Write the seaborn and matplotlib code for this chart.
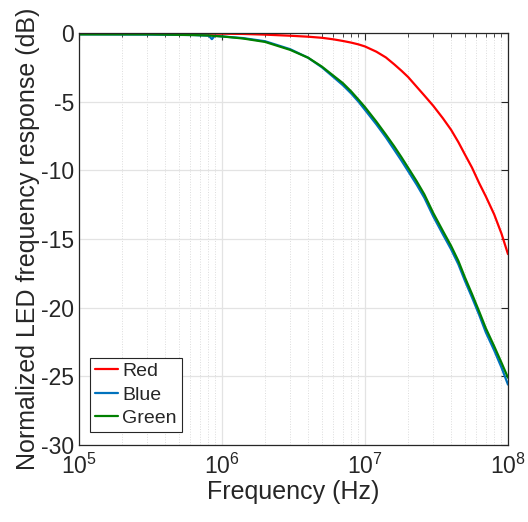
import numpy as np
import pandas as pd
import seaborn as sns
import matplotlib
matplotlib.use("Agg")
import matplotlib.pyplot as plt
from matplotlib.ticker import LogLocator, NullFormatter, MultipleLocator

freq = [1.0e5, 3.2e5, 6.3e5, 8.1e5, 8.5e5, 8.9e5, 1.0e6, 1.4e6, 2.0e6, 3.0e6,
        4.0e6, 5.0e6, 6.0e6, 7.0e6, 8.0e6, 9.0e6, 1.0e7, 1.2e7, 1.4e7, 1.6e7,
        1.8e7, 2.0e7, 2.3e7, 2.6e7, 3.0e7, 3.5e7, 4.0e7, 4.5e7, 5.0e7, 5.6e7,
        6.3e7, 7.0e7, 8.0e7, 9.0e7, 1.0e8]
red = [-0.05, -0.05, -0.05, -0.05, -0.05, -0.05, -0.05, -0.07, -0.12, -0.2,
       -0.27, -0.35, -0.46, -0.58, -0.7, -0.83, -0.98, -1.36, -1.78, -2.28,
       -2.75, -3.2, -3.92, -4.55, -5.3, -6.2, -7.05, -7.95, -8.85, -9.8,
       -10.95, -11.9, -13.2, -14.6, -16.1]
blue = [-0.1, -0.12, -0.15, -0.2, -0.45, -0.2, -0.25, -0.37, -0.6, -1.18,
        -1.8, -2.5, -3.2, -3.8, -4.4, -5.0, -5.6, -6.65, -7.6, -8.5,
        -9.3, -10.05, -11.05, -12.0, -13.35, -14.65, -15.75, -16.85, -18.05, -19.25,
        -20.55, -21.8, -23.1, -24.35, -25.6]
green = [-0.1, -0.1, -0.15, -0.18, -0.2, -0.22, -0.25, -0.4, -0.65, -1.23,
         -1.8, -2.45, -3.1, -3.65, -4.25, -4.85, -5.4, -6.45, -7.4, -8.25,
         -9.05, -9.8, -10.8, -11.75, -13.1, -14.4, -15.5, -16.6, -17.8, -19.0,
         -20.3, -21.5, -22.8, -24.0, -25.1]

series = ["Red", "Blue", "Green"]
colors = ["#ff0000", "#0072bd", "#008000"]

df = pd.DataFrame({
    "freq": freq * 3,
    "dB": red + blue + green,
    "LED": [s for s in series for _ in freq],
})

sns.set_style("white")
plt.rcParams["font.family"] = ["Liberation Sans", "DejaVu Sans"]
plt.rcParams["axes.unicode_minus"] = False
plt.rcParams["mathtext.default"] = "regular"

fig = plt.figure(figsize=(5.28, 5.22), dpi=100)
ax = fig.add_axes([0.1496, 0.1475, 0.8125, 0.7893])

sns.lineplot(data=df, x="freq", y="dB", hue="LED", palette=colors,
             hue_order=series, sort=False, linewidth=1.6, ax=ax)

ax.set_xscale("log")
ax.set_xlim(1e5, 1e8)
ax.set_ylim(-30, 0)
ax.yaxis.set_major_locator(MultipleLocator(5))
ax.xaxis.set_minor_locator(LogLocator(base=10, subs=np.arange(2, 10)))
ax.xaxis.set_minor_formatter(NullFormatter())

# matlab style grid
ax.grid(True, which="major", color="#e3e3e3", linewidth=0.9, linestyle="-")
ax.grid(True, which="minor", axis="x", color="#dcdcdc", linewidth=0.7, linestyle=":")
ax.set_axisbelow(True)

for sp in ax.spines.values():
    sp.set_color("#262626")
    sp.set_linewidth(0.9)
ax.tick_params(which="both", direction="in", top=True, right=True,
               colors="#262626", labelsize=16.5)
ax.tick_params(which="major", length=5, width=0.8)
ax.tick_params(which="minor", length=3, width=0.6)
ax.tick_params(axis="x", pad=6)

ax.set_xlabel("Frequency (Hz)", fontsize=18, color="#262626", labelpad=1)
ax.set_ylabel("Normalized LED frequency response (dB)", fontsize=18,
              color="#262626", labelpad=1)

leg = ax.legend(loc="lower left", bbox_to_anchor=(0.026, 0.032), borderaxespad=0,
                fontsize=14, frameon=True, fancybox=False, edgecolor="#262626",
                framealpha=1, handlelength=1.2, handletextpad=0.2,
                labelspacing=0.3, borderpad=0.25)
leg.get_frame().set_linewidth(0.8)
for line in leg.get_lines():
    line.set_linewidth(1.6)

fig.savefig("out.png", dpi=100)
